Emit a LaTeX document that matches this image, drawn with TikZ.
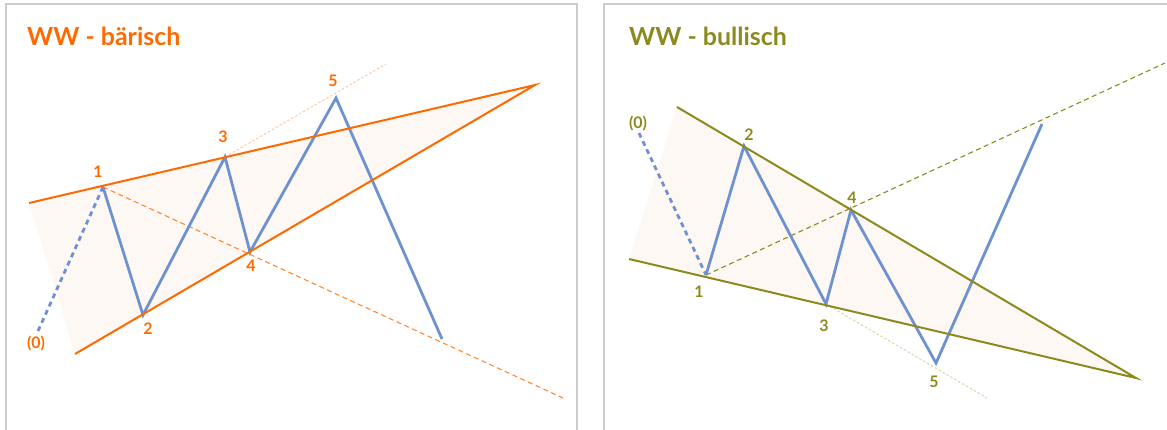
\documentclass[tikz,border=0pt]{standalone}
\usepackage{fontspec}
\setmainfont{Lato}
\definecolor{wworange}{HTML}{FF6A00}
\definecolor{wwolive}{HTML}{8C8A1E}
\definecolor{wwblue}{HTML}{6D92CF}
\definecolor{wwfill}{HTML}{FEF8F4}
\definecolor{wwframe}{HTML}{CCCCCC}
\definecolor{wwlightorange}{HTML}{FFC9A3}
\definecolor{wwlightolive}{HTML}{D6D8A8}
\tikzset{
  frameline/.style={draw=wwframe,line width=2.5bp},
  trendline/.style={line width=2bp},
  waveline/.style={draw=wwblue,line width=2.8bp,line join=miter},
  wavedash/.style={draw=wwblue,line width=2.8bp,dash pattern=on 5bp off 4bp},
  channeldash/.style={line width=1.1bp,dash pattern=on 5bp off 3.5bp},
  faintdash/.style={line width=1bp,dash pattern=on 2.5bp off 2bp},
  paneltitle/.style={font=\fontsize{25}{28}\selectfont\bfseries,anchor=base west,inner sep=0pt},
  wavelabel/.style={font=\fontsize{16}{18}\selectfont\bfseries,inner sep=0pt}
}
\begin{document}
\begin{tikzpicture}[x=1bp,y=-1bp]
\useasboundingbox (0,0) rectangle (1167,429);
\begin{scope}
\clip (0,0) rectangle (1167,429);
% frames
\draw[frameline] (6,440) -- (6,4) -- (577,4) -- (577,440);
\draw[frameline] (604,440) -- (604,4) -- (1180,4);

% ---------- left panel (bearish) ----------
\coordinate (La) at (29,203);
\coordinate (Lb) at (75,354);
\coordinate (Lapex) at (535,85);
\coordinate (L0) at (38,331);
\coordinate (L1) at (103,187);
\coordinate (L2) at (143,315);
\coordinate (L3) at (225,157);
\coordinate (L4) at (250,252);
\coordinate (L5) at (336,98);
\coordinate (Lend) at (442,339);
\coordinate (Ld) at (563,398);
\coordinate (Le) at (386,64);

\fill[wwfill] (La) -- (Lapex) -- (Lb) -- cycle;
\draw[channeldash,draw=wworange!80] (L1) -- (Ld);
\draw[faintdash,draw=wwlightorange] (L3) -- (Le);
\draw[wavedash] (L0) -- (L1);
\draw[waveline] (L1) -- (L2) -- (L3) -- (L4) -- (L5) -- (Lend);
\draw[trendline,draw=wworange] (La) -- (Lapex) -- (Lb);

\node[paneltitle,text=wworange] (Ltitle) at (27,45) {WW - bärisch};
\node[wavelabel,text=wworange] (Ll0) at (36,343) {(0)};
\node[wavelabel,text=wworange] (Ll1) at (98,172) {1};
\node[wavelabel,text=wworange] (Ll2) at (148,329) {2};
\node[wavelabel,text=wworange] (Ll3) at (223,137) {3};
\node[wavelabel,text=wworange] (Ll4) at (251,266) {4};
\node[wavelabel,text=wworange] (Ll5) at (333,81) {5};

% ---------- right panel (bullish) ----------
\coordinate (Ra) at (677,107);
\coordinate (Rb) at (629,259);
\coordinate (Rapex) at (1136,378);
\coordinate (R0) at (639,133);
\coordinate (R1) at (706,275);
\coordinate (R2) at (744,146);
\coordinate (R3) at (826,304);
\coordinate (R4) at (851,210);
\coordinate (R5) at (936,363);
\coordinate (Rend) at (1042,124);
\coordinate (Rd) at (1165,63);
\coordinate (Re) at (987,398);

\fill[wwfill] (Ra) -- (Rapex) -- (Rb) -- cycle;
\draw[channeldash,draw=wwolive] (R1) -- (Rd);
\draw[faintdash,draw=wwlightolive] (R3) -- (Re);
\draw[wavedash] (R0) -- (R1);
\draw[waveline] (R1) -- (R2) -- (R3) -- (R4) -- (R5) -- (Rend);
\draw[trendline,draw=wwolive] (Ra) -- (Rapex) -- (Rb);

\node[paneltitle,text=wwolive] (Rtitle) at (629,45) {WW - bullisch};
\node[wavelabel,text=wwolive] (Rl0) at (638,123) {(0)};
\node[wavelabel,text=wwolive] (Rl1) at (699,292) {1};
\node[wavelabel,text=wwolive] (Rl2) at (749,135) {2};
\node[wavelabel,text=wwolive] (Rl3) at (824,326) {3};
\node[wavelabel,text=wwolive] (Rl4) at (852,198) {4};
\node[wavelabel,text=wwolive] (Rl5) at (934,382) {5};
\end{scope}
\end{tikzpicture}
\end{document}
